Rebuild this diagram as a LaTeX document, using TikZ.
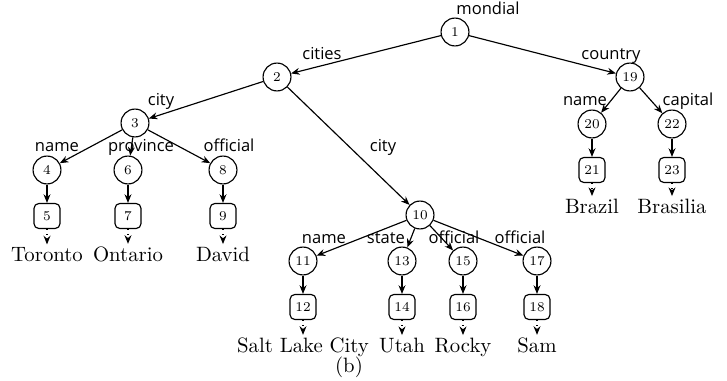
\documentclass[tikz,border=0pt]{standalone}
\usepackage{fontspec}
\newfontfamily\lblfont{Open Sans}
\usetikzlibrary{positioning,arrows.meta}

\begin{document}
\begin{tikzpicture}
  [x=0.52pt,y=-0.52pt,>={Stealth[length=4.5pt,width=3.6pt]},semithick,
   vtx/.style={draw, circle, inner sep=0pt, minimum size=14.5pt, font=\scriptsize},
   leafbox/.style={draw, rounded corners=2.5pt, inner sep=0pt, minimum width=13.5pt, minimum height=13pt, font=\scriptsize},
   lbl/.style={anchor=base, inner sep=0pt, font=\lblfont\fontsize{8.6}{10}\selectfont},
   val/.style={anchor=base, inner sep=1pt, font=\fontsize{10.8}{13}\selectfont}]
  \useasboundingbox (0,0) rectangle (727,381);

  % element nodes
  \node[vtx] (n1) at (455,32) {1};
  \node[vtx] (n2) at (277,77) {2};
  \node[vtx] (n3) at (135,123) {3};
  \node[vtx] (n4) at (47,170) {4};
  \node[vtx] (n6) at (128,170) {6};
  \node[vtx] (n8) at (223,170) {8};
  \node[vtx] (n10) at (420,215) {10};
  \node[vtx] (n11) at (303,261) {11};
  \node[vtx] (n13) at (402,261) {13};
  \node[vtx] (n15) at (463,261) {15};
  \node[vtx] (n17) at (537,261) {17};
  \node[vtx] (n19) at (630,77) {19};
  \node[vtx] (n20) at (592,124) {20};
  \node[vtx] (n22) at (672,124) {22};

  % text nodes
  \node[leafbox] (n5) at (47,216) {5};
  \node[leafbox] (n7) at (128,216) {7};
  \node[leafbox] (n9) at (223,216) {9};
  \node[leafbox] (n12) at (303,307) {12};
  \node[leafbox] (n14) at (402,307) {14};
  \node[leafbox] (n16) at (463,307) {16};
  \node[leafbox] (n18) at (537,307) {18};
  \node[leafbox] (n21) at (592,170) {21};
  \node[leafbox] (n23) at (672,170) {23};

  % values
  \node[val] (v5) at (47,261) {Toronto};
  \node[val] (v7) at (128,261) {Ontario};
  \node[val] (v9) at (223,261) {David};
  \node[val] (v12) at (303,352) {Salt Lake City};
  \node[val] (v14) at (402,352) {Utah};
  \node[val] (v16) at (463,352) {Rocky};
  \node[val] (v18) at (537,352) {Sam};
  \node[val] (v21) at (592,213) {Brazil};
  \node[val] (v23) at (672,213) {Brasilia};
  \node[val] (sub) at (349,372) {(b)};

  % tag names
  \node[lbl] (l1) at (488,15) {mondial};
  \node[lbl] (l2) at (322,60) {cities};
  \node[lbl] (l3) at (161,106) {city};
  \node[lbl] (l4) at (57,152) {name};
  \node[lbl] (l6) at (141,152) {province};
  \node[lbl] (l8) at (229,152) {official};
  \node[lbl] (l10) at (383,152) {city};
  \node[lbl] (l11) at (324,243) {name};
  \node[lbl] (l13) at (386,243) {state};
  \node[lbl] (l15) at (454,243) {official};
  \node[lbl] (l17) at (520,243) {official};
  \node[lbl] (l19) at (611,60) {country};
  \node[lbl] (l20) at (585,106) {name};
  \node[lbl] (l22) at (688,106) {capital};

  \foreach \from/\to in {n1/n2, n1/n19, n2/n3, n2/n10, n3/n4, n3/n6, n3/n8, n4/n5, n6/n7, n8/n9,
                         n10/n11, n10/n13, n10/n15, n10/n17, n11/n12, n13/n14, n15/n16, n17/n18,
                         n19/n20, n19/n22, n20/n21, n22/n23}
    \draw[->] (\from) -- (\to);

  \foreach \from/\to in {n5/v5, n7/v7, n9/v9, n12/v12, n14/v14, n16/v16, n18/v18, n21/v21, n23/v23}
    \draw[->, dotted] (\from) -- (\to);
\end{tikzpicture}
\end{document}
